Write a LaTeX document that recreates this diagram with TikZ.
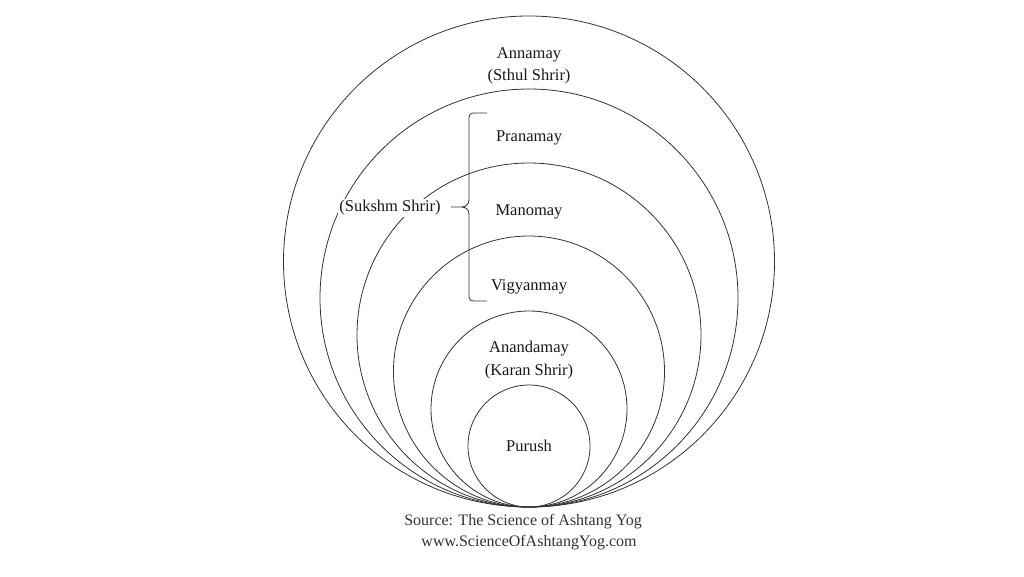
\documentclass[tikz,border=0pt]{standalone}
\usepackage{fontspec}
\setmainfont{Liberation Serif}
\begin{document}
\begin{tikzpicture}[x=1pt,y=-1pt,
  ring/.style={circle,draw=black!80,line width=0.8pt,inner sep=0pt},
  lab/.style={fill=white,inner sep=1.5pt,text=black!90,font=\fontsize{16.5}{20}\selectfont,align=center},
  src/.style={inner sep=0pt,text=black!80,font=\fontsize{16}{20}\selectfont},
  bracepath/.style={draw=black!80,line width=0.8pt}]
\useasboundingbox (0,0) rectangle (1024,576);
% rings, all tangent at the bottom point (529,507)
\node[ring,minimum size=491pt] (r1) at (529,261.5) {};
\node[ring,minimum size=418pt] (r2) at (529,298) {};
\node[ring,minimum size=344pt] (r3) at (529,335) {};
\node[ring,minimum size=271pt] (r4) at (529,371.5) {};
\node[ring,minimum size=196pt] (r5) at (529,409) {};
\node[ring,minimum size=122pt] (r6) at (529,446) {};
% labels
\node[lab] (anna) at (529,55) {Annamay};
\node[lab] (sthul) at (529,77) {(Sthul Shrir)};
\node[lab] (prana) at (529,138) {Pranamay};
\node[lab] (mano) at (529,212) {Manomay};
\node[lab] (vigy) at (529,287) {Vigyanmay};
\node[lab] (ananda) at (529,349) {Anandamay};
\node[lab] (karan) at (529,372) {(Karan Shrir)};
\node[lab] (purush) at (529,446) {Purush};
\node[lab] (suk) at (390,208) {(Sukshm Shrir)};
% brace
\coordinate (btop) at (487,113);
\coordinate (bbot) at (487,301);
\coordinate (btip) at (462,207);
\coordinate (bend) at (451,207);
\draw[bracepath] (btop) -- (473,113) to[out=180,in=90] (469,117) -- (469,200)
  to[out=-90,in=0] (btip) -- (bend);
\draw[bracepath] (btip) to[out=0,in=90] (469,214) -- (469,297)
  to[out=-90,in=180] (473,301) -- (bbot);
% source
\node[src] (source) at (523,522) {Source: The Science of Ashtang Yog};
\node[src] (web) at (529,543) {www.ScienceOfAshtangYog.com};
\end{tikzpicture}
\end{document}
